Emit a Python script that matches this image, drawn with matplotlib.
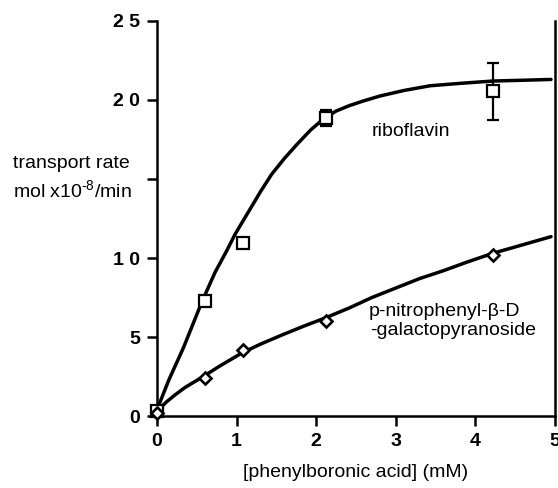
import matplotlib
matplotlib.use('Agg')
import matplotlib.pyplot as plt

plt.rcParams['font.family'] = ['Liberation Sans', 'DejaVu Sans']
plt.rcParams['mathtext.fontset'] = 'custom'
plt.rcParams['mathtext.rm'] = 'Liberation Sans'
plt.rcParams['mathtext.it'] = 'Liberation Sans'

# measured points
ribo_x = [0.0, 0.60, 1.08, 2.12, 4.22]
ribo_y = [0.3, 7.3, 10.95, 18.85, 20.55]
ribo_err = [0.0, 0.0, 0.0, 0.5, 1.8]

npg_x = [0.0, 0.60, 1.08, 2.12, 4.22]
npg_y = [0.2, 2.4, 4.2, 6.0, 10.2]

# fitted curves
ribo_fit_x = [0.0, 0.15, 0.33, 0.45, 0.57, 0.73, 0.88, 0.98, 1.17, 1.3, 1.44, 1.6, 1.76,
              1.93, 2.09, 2.25, 2.42, 2.6, 2.8, 3.1, 3.43, 3.8, 4.22, 4.6, 4.95]
ribo_fit_y = [0.4, 2.3, 4.3, 5.8, 7.3, 9.1, 10.5, 11.5, 13.1, 14.2, 15.3, 16.3, 17.2,
              18.1, 18.8, 19.3, 19.65, 19.95, 20.25, 20.6, 20.9, 21.05, 21.2, 21.25, 21.3]

npg_fit_x = [0.0, 0.05, 0.12, 0.23, 0.35, 0.58, 0.8, 1.07, 1.3, 1.58, 1.85, 2.11, 2.42, 2.7,
             3.05, 3.3, 3.6, 3.9, 4.22, 4.5, 4.95]
npg_fit_y = [0.25, 0.55, 0.9, 1.35, 1.8, 2.5, 3.2, 4.0, 4.55, 5.15, 5.7, 6.2, 6.85, 7.5,
             8.2, 8.7, 9.2, 9.75, 10.3, 10.7, 11.35]

xticks = [0, 1, 2, 3, 4, 5]
yticks = [0, 5, 10, 15, 20, 25]
ytick_labels = ['0', '5', '1 0', '', '2 0', '2 5']

fig = plt.figure(figsize=(5.58, 4.88), dpi=100)
ax = fig.add_axes([0.2814, 0.1475, 0.7132, 0.8095])

ax.plot(ribo_fit_x, ribo_fit_y, color='black', lw=2.5, solid_capstyle='round',
        solid_joinstyle='round')
ax.plot(npg_fit_x, npg_fit_y, color='black', lw=2.5, solid_capstyle='round',
        solid_joinstyle='round')

ax.errorbar(ribo_x, ribo_y, yerr=ribo_err, fmt='none', ecolor='black',
            elinewidth=1.6, capsize=4, capthick=1.6, zorder=3)
ax.plot(ribo_x, ribo_y, 's', ms=8, mfc='white', mec='black', mew=1.6, zorder=4,
        clip_on=False)
ax.plot(npg_x, npg_y, 'D', ms=6, mfc='white', mec='black', mew=1.9, zorder=4,
        clip_on=False)

ax.text(2.70, 18.0, 'riboflavin', fontsize=14, va='center', ha='left')
ax.text(2.66, 6.6, 'p-nitrophenyl-β-D', fontsize=14, va='center', ha='left')
ax.text(2.68, 5.4, '-galactopyranoside', fontsize=14, va='center', ha='left')

ax.set_xlim(0, 5)
ax.set_ylim(0, 25)
ax.set_xticks(xticks)
ax.set_yticks(yticks)
ax.set_yticklabels(ytick_labels)
ax.tick_params(direction='out', length=7, width=1.8, labelsize=14, pad=5)
for lab in ax.get_xticklabels() + ax.get_yticklabels():
    lab.set_fontweight('bold')

ax.spines['top'].set_visible(False)
for s in ['left', 'bottom', 'right']:
    ax.spines[s].set_linewidth(1.8)

ax.set_xlabel('[phenylboronic acid] (mM)', fontsize=14, labelpad=10)

fig.text(0.023, 0.665, 'transport rate', fontsize=14, ha='left', va='center')
fig.text(0.023, 0.61, 'mol x10$^{\u20108}$/min', fontsize=14, ha='left', va='center')

fig.savefig('out.png', dpi=100)
